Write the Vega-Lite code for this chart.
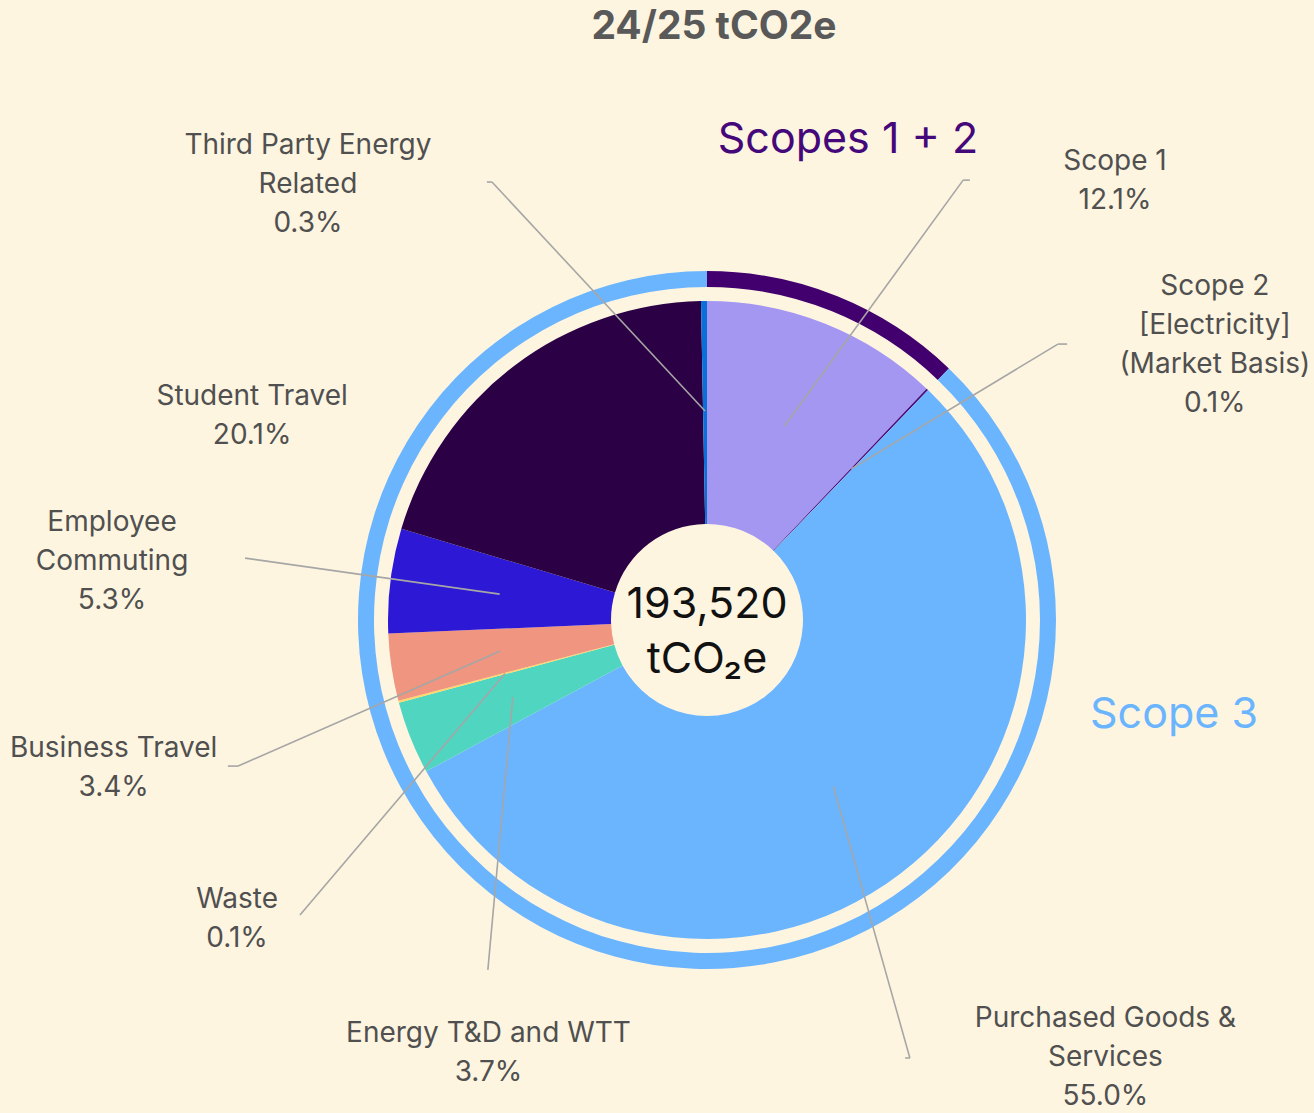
{
  "$schema": "https://vega.github.io/schema/vega-lite/v6.json",
  "width": 1214,
  "height": 986,
  "autosize": {"type": "none"},
  "padding": {"left": 100, "top": 127, "right": 0, "bottom": 0},
  "background": "#FEF5E0",
  "config": {"view": {"stroke": null}, "font": "Inter"},
  "title": {"text": "24/25 tCO2e", "fontSize": 39, "fontWeight": "bold", "color": "#595959", "font": "Inter", "anchor": "middle", "frame": "group", "offset": 72, "dx": 7},
  "data": {
    "values": [
      {"category": "Scope 1", "group": "Scopes 1 + 2", "pct": 12.1, "label": ["Scope 1", "12.1%"]},
      {"category": "Scope 2", "group": "Scopes 1 + 2", "pct": 0.1, "label": ["Scope 2", "[Electricity]", "(Market Basis)", "0.1%"]},
      {"category": "Purchased Goods & Services", "group": "Scope 3", "pct": 55.0, "label": ["Purchased Goods &", "Services", "55.0%"]},
      {"category": "Energy T&D and WTT", "group": "Scope 3", "pct": 3.7, "label": ["Energy T&D and WTT", "3.7%"]},
      {"category": "Waste", "group": "Scope 3", "pct": 0.1, "label": ["Waste", "0.1%"]},
      {"category": "Business Travel", "group": "Scope 3", "pct": 3.4, "label": ["Business Travel", "3.4%"]},
      {"category": "Employee Commuting", "group": "Scope 3", "pct": 5.3, "label": ["Employee", "Commuting", "5.3%"]},
      {"category": "Student Travel", "group": "Scope 3", "pct": 20.1, "label": ["Student Travel", "20.1%"]},
      {"category": "Third Party Energy Related", "group": "Scope 3", "pct": 0.3, "label": ["Third Party Energy", "Related", "0.3%"]}
    ]
  },
  "transform": [
    {"window": [{"op": "row_number", "as": "rank"}, {"op": "sum", "field": "pct", "as": "cum"}], "frame": [null, 0]},
    {"joinaggregate": [{"op": "sum", "field": "pct", "as": "total"}]},
    {"calculate": "(datum.cum - datum.pct / 2) / datum.total * 2 * PI", "as": "mid"},
    {"calculate": "0.655 * sin(datum.mid)", "as": "ix"},
    {"calculate": "0.655 * cos(datum.mid)", "as": "iy"},
    {"calculate": "{'Scope 1': 1.279, 'Scope 2': 1.592, 'Purchased Goods & Services': 1.249, 'Energy T&D and WTT': -0.685, 'Waste': -1.473, 'Business Travel': -1.860, 'Employee Commuting': -1.865, 'Student Travel': -1.426, 'Third Party Energy Related': -1.251}[datum.category]", "as": "lx"},
    {"calculate": "{'Scope 1': 1.4355, 'Scope 2': 1.0435, 'Purchased Goods & Services': -1.252, 'Energy T&D and WTT': -1.2985, 'Waste': -0.8775, 'Business Travel': -0.4045, 'Employee Commuting': 0.3035, 'Student Travel': 0.6985, 'Third Party Energy Related': 1.4855}[datum.category]", "as": "ly"},
    {"calculate": "{'Scope 1': 0.803, 'Scope 2': 1.100, 'Purchased Goods & Services': 0.636, 'Energy T&D and WTT': -0.687, 'Waste': -1.276, 'Business Travel': -1.470, 'Employee Commuting': -1.448, 'Third Party Energy Related': -0.674}[datum.category]", "as": "ex"},
    {"calculate": "{'Scope 1': 1.379, 'Scope 2': 0.865, 'Purchased Goods & Services': -1.373, 'Energy T&D and WTT': -1.097, 'Waste': -0.925, 'Business Travel': -0.458, 'Employee Commuting': 0.194, 'Third Party Energy Related': 1.373}[datum.category]", "as": "ey"},
    {"calculate": "{'Scope 1': 0.824, 'Scope 2': 1.129, 'Purchased Goods & Services': 0.621, 'Business Travel': -1.502, 'Third Party Energy Related': -0.690}[datum.category]", "as": "hx"}
  ],
  "layer": [
    {
      "transform": [
        {"aggregate": [{"op": "sum", "field": "pct", "as": "gpct"}, {"op": "min", "field": "rank", "as": "grank"}], "groupby": ["group"]}
      ],
      "mark": {"type": "arc", "radius": 349, "radius2": 333},
      "encoding": {
        "theta": {"field": "gpct", "type": "quantitative", "stack": true},
        "order": {"field": "grank", "type": "quantitative"},
        "color": {"field": "group", "type": "nominal", "legend": null, "scale": {"domain": ["Scopes 1 + 2", "Scope 3"], "range": ["#42006F", "#6BB5FF"]}}
      }
    },
    {
      "mark": {"type": "arc", "radius": 319, "radius2": 96},
      "encoding": {
        "theta": {"field": "pct", "type": "quantitative", "stack": true},
        "order": {"field": "rank", "type": "quantitative"},
        "color": {"field": "category", "type": "nominal", "legend": null, "scale": {
          "domain": ["Scope 1", "Scope 2", "Purchased Goods & Services", "Energy T&D and WTT", "Waste", "Business Travel", "Employee Commuting", "Student Travel", "Third Party Energy Related"],
          "range": ["#A397F2", "#48087A", "#6BB5FF", "#50D5C1", "#FFD867", "#EF9580", "#2C18D5", "#2B0045", "#0A6FD8"]}}
      }
    },
    {
      "transform": [{"filter": "isValid(datum.ex)"}],
      "mark": {"type": "rule", "stroke": "#A6A6A6", "strokeWidth": 1.6},
      "encoding": {
        "x": {"field": "ix", "type": "quantitative", "axis": null, "scale": {"domain": [-1.9028, 1.9028], "nice": false, "zero": false}},
        "y": {"field": "iy", "type": "quantitative", "axis": null, "scale": {"domain": [-1.5455, 1.5455], "nice": false, "zero": false}},
        "x2": {"field": "ex"},
        "y2": {"field": "ey"}
      }
    },
    {
      "transform": [{"filter": "isValid(datum.hx)"}],
      "mark": {"type": "rule", "stroke": "#A6A6A6", "strokeWidth": 1.6},
      "encoding": {
        "x": {"field": "ex", "type": "quantitative"},
        "y": {"field": "ey", "type": "quantitative"},
        "x2": {"field": "hx"},
        "y2": {"field": "ey"}
      }
    },
    {
      "mark": {"type": "text", "fontSize": 28, "font": "Inter", "color": "#505050", "lineHeight": 39, "align": "center", "baseline": "middle"},
      "encoding": {
        "x": {"field": "lx", "type": "quantitative"},
        "y": {"field": "ly", "type": "quantitative"},
        "text": {"field": "label"}
      }
    },
    {
      "transform": [
        {"aggregate": [{"op": "min", "field": "rank", "as": "grank"}], "groupby": ["group"]},
        {"calculate": "{'Scopes 1 + 2': 0.442, 'Scope 3': 1.464}[datum.group]", "as": "gx"},
        {"calculate": "{'Scopes 1 + 2': 1.505, 'Scope 3': -0.298}[datum.group]", "as": "gy"}
      ],
      "mark": {"type": "text", "fontSize": 43, "font": "Inter", "align": "center", "baseline": "middle"},
      "encoding": {
        "x": {"field": "gx", "type": "quantitative"},
        "y": {"field": "gy", "type": "quantitative"},
        "text": {"field": "group"},
        "color": {"field": "group", "type": "nominal", "legend": null, "scale": {"domain": ["Scopes 1 + 2", "Scope 3"], "range": ["#45087A", "#6BB5FF"]}}
      }
    },
    {
      "data": {"values": [{"total": 193520, "unit": "tCO₂e"}]},
      "mark": {"type": "text", "fontSize": 43, "font": "Inter", "color": "#111111", "align": "center", "baseline": "alphabetic", "dy": -2},
      "encoding": {"text": {"field": "total", "type": "quantitative", "format": ","}}
    },
    {
      "data": {"values": [{"total": 193520, "unit": "tCO₂e"}]},
      "mark": {"type": "text", "fontSize": 43, "font": "Inter", "color": "#111111", "align": "center", "baseline": "alphabetic", "dy": 53},
      "encoding": {"text": {"field": "unit"}}
    }
  ],
  "resolve": {"scale": {"color": "independent", "theta": "independent"}}
}
